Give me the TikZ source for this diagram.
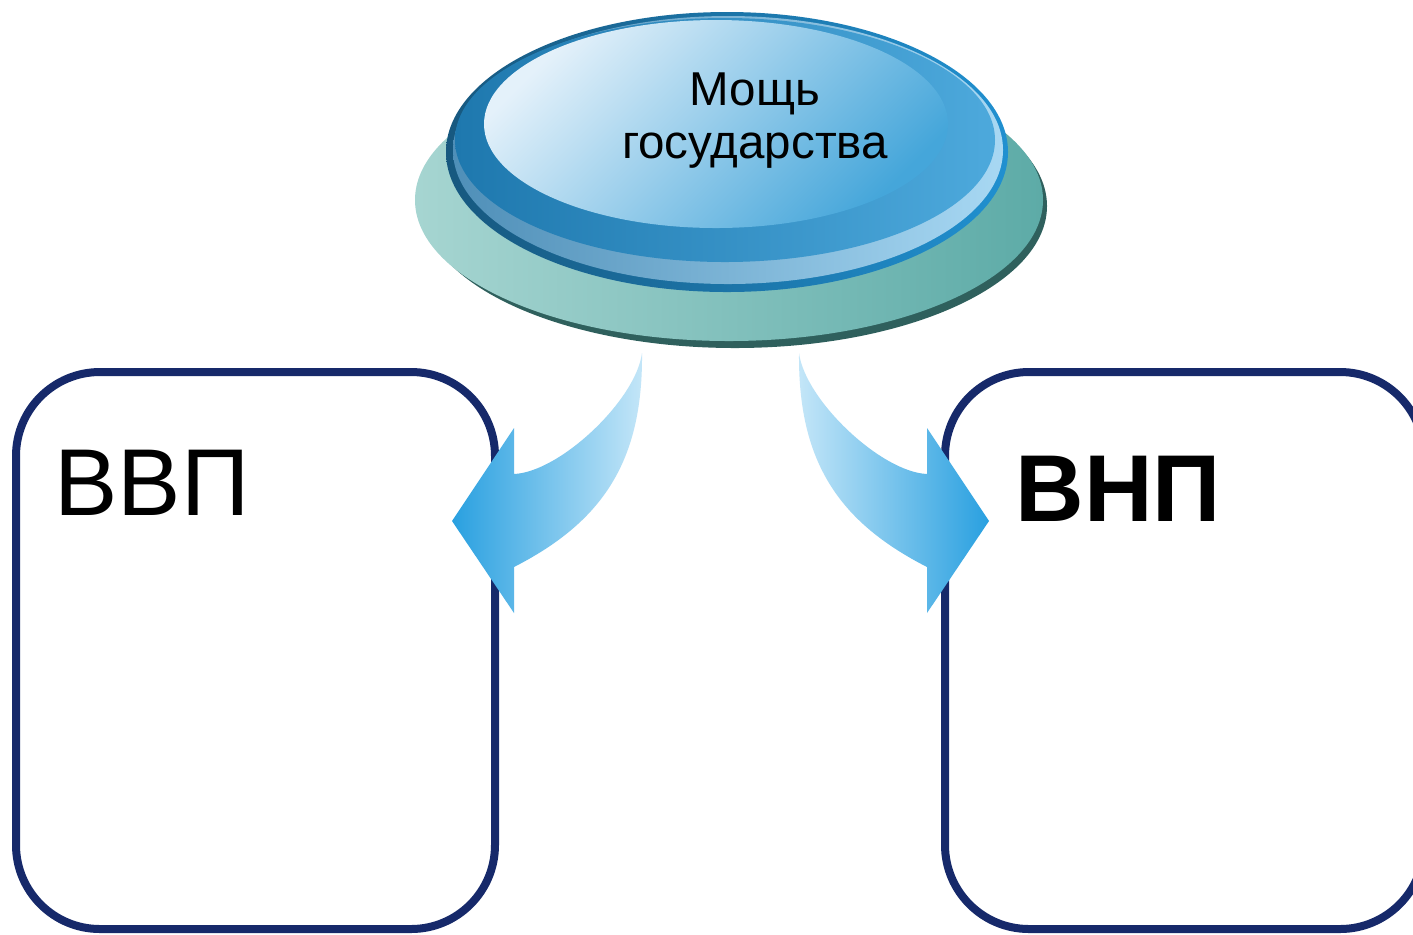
\documentclass[tikz,border=0pt]{standalone}
\usepackage{fontspec}
\setmainfont{Liberation Sans}
\usepackage{tikz}
\usetikzlibrary{positioning}
\definecolor{framenavy}{HTML}{16296A}
\definecolor{flowdark}{HTML}{29A0E0}
\definecolor{flowlight}{HTML}{C4E6F8}
\definecolor{tealrim}{HTML}{2F605D}
\definecolor{teallight}{HTML}{A6D5D1}
\definecolor{tealdark}{HTML}{5DABA7}
\tikzstyle{panel} = [draw=framenavy, line width=4pt, rounded corners=42pt]
\tikzstyle{bigtext} = [inner sep=0pt, font=\fontsize{47.5}{57}\selectfont]
\tikzstyle{flowL} = [left color=flowdark, right color=flowlight]
\tikzstyle{flowR} = [left color=flowlight, right color=flowdark]

\begin{document}
\begin{tikzpicture}[x=0.5pt, y=-0.5pt]
            \clip (0,0) rectangle (1413,934);
            \fill[white] (0,0) rectangle (1413,934);

            % boxes
            \draw[panel] (16,372) rectangle (495,929);
            \draw[panel] (945,372) rectangle (1424,929);
            \node[bigtext, anchor=base west] (gdp) at (54,515) {ВВП};
            \node[bigtext, anchor=base west, font=\fontsize{47.5}{57}\selectfont\bfseries] (gnp) at (1015,521) {ВНП};

            % curved arrows
            \shade[flowL] (642,353) .. controls (636,400) and (560,472) .. (514,474)
                -- (514,428) -- (452,521) -- (514,613) -- (514,567)
                .. controls (602,522) and (643,462) .. (642,353) -- cycle;
            \shade[flowR] (799,353) .. controls (805,400) and (881,472) .. (927,474)
                -- (927,428) -- (989,521) -- (927,613) -- (927,567)
                .. controls (839,522) and (798,462) .. (799,353) -- cycle;

            % base disc
            \fill[tealrim] (735,206) ellipse [x radius=312, y radius=142];
            \shade[left color=teallight, right color=tealdark] (729,200) ellipse [x radius=314, y radius=141];

            % top disc
            \shade[left color={rgb,255:red,23;green,88;blue,127}, right color={rgb,255:red,32;green,144;blue,208}]
                (727,152) ellipse [x radius=281, y radius=140];
            \shade[left color={rgb,255:red,79;green,143;blue,184}, right color={rgb,255:red,168;green,216;blue,243}]
                (728,150) ellipse [x radius=275, y radius=134];
            \shade[left color={rgb,255:red,30;green,120;blue,174}, right color={rgb,255:red,77;green,169;blue,220}]
                (725,140) ellipse [x radius=270, y radius=122];
            \shade[top color={rgb,255:red,228;green,241;blue,250}, bottom color={rgb,255:red,69;green,166;blue,218}, shading angle=45]
                (716,124) ellipse [x radius=232, y radius=104];
            \node[align=center, font=\fontsize{23.75}{26.5}\selectfont] (power) at (755,121) {Мощь\\государства};
\end{tikzpicture}
\end{document}
